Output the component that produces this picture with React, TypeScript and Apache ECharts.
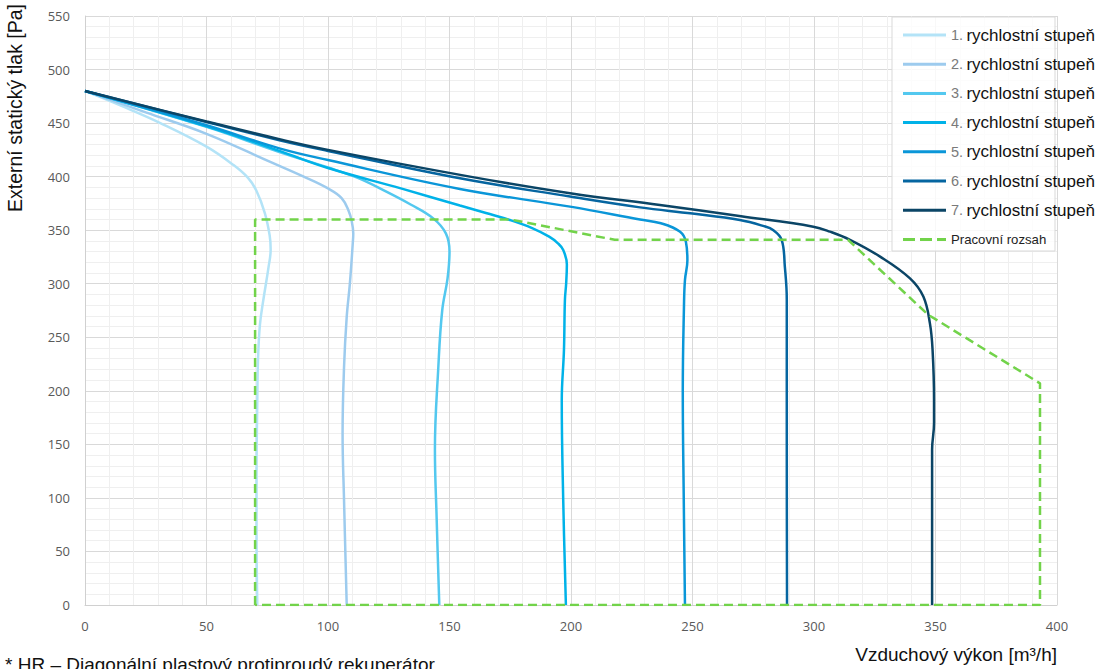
import React, { useEffect, useRef } from "react";
import * as echarts from "echarts";

const xTicks = [0, 50, 100, 150, 200, 250, 300, 350, 400];
const yTicks = [0, 50, 100, 150, 200, 250, 300, 350, 400, 450, 500, 550];

const speedNames = [
  "1. rychlostní stupeň",
  "2. rychlostní stupeň",
  "3. rychlostní stupeň",
  "4. rychlostní stupeň",
  "5. rychlostní stupeň",
  "6. rychlostní stupeň",
  "7. rychlostní stupeň",
];
const rangeName = "Pracovní rozsah";

const speed1 = [
  [0, 480], [15, 466], [31, 450], [50, 428], [61, 411], [67, 399], [70.5, 387],
  [74, 366], [76, 345], [76.4, 332], [75.5, 315], [73.4, 285], [72, 262],
  [71.2, 230], [70.9, 191], [70.6, 120], [70.6, 67], [70.9, 0],
];
const speed2 = [
  [0, 480], [25, 460], [50, 440], [76, 414], [90, 400], [100, 389], [105.6, 380],
  [108.5, 368], [109.7, 359], [110.4, 347], [110.2, 338], [109, 300], [107.7, 269],
  [106.6, 222], [106, 160], [106.6, 98], [107.7, 0],
];
const speed3 = [
  [0, 480], [50, 446.5], [80, 423], [100, 408.5], [112, 399], [124, 386], [134, 374],
  [143.3, 361], [148.5, 347], [150, 330], [149.2, 305],
  [147, 275], [145.4, 222], [144, 145], [144.7, 82], [145.8, 0],
];
const speed4 = [
  [0, 480], [50, 447], [80, 424], [100, 408], [130, 389], [154.3, 373], [165, 366],
  [174.9, 359.5], [184, 352], [191, 344], [194.5, 338], [196.8, 331.5], [198.3, 318],
  [198, 300], [197.5, 285], [197.1, 238], [196.2, 191], [196.8, 98], [197.9, 0],
];
const speed5 = [
  [0, 480], [50, 448], [80, 426.4], [100, 415.5], [154.3, 388.5], [199.6, 372],
  [228.4, 360], [237, 356.5], [244.9, 348.6], [247.3, 339], [247.9, 322],
  [246.9, 303.5], [246.5, 280], [246, 200], [246.4, 100], [246.9, 0],
];
const speed6 = [
  [0, 480], [50, 451], [80, 434], [100, 424], [154.3, 398.4], [199.6, 381.4],
  [228.4, 371.3], [250, 365.5], [269.5, 359.5], [279, 354], [283.3, 350],
  [286.7, 341], [288, 316], [288.8, 285], [288.8, 150], [288.9, 0],
];
const speed7 = [
  [0, 480], [50, 451.5], [80, 435], [100, 425], [158.4, 400], [199.6, 384.5],
  [236.6, 373.5], [270, 363], [299.7, 353.3], [306.6, 348.6], [314.8, 341],
  [327.2, 325.3], [339.5, 305], [345, 288], [347.7, 263], [348.8, 238],
  [349.4, 191], [349.4, 170], [348.6, 145], [348.6, 0],
];
const workingRange = [
  [70, 0], [70, 360], [175, 360], [218, 341], [314, 341], [347, 271],
  [393, 207], [393, 0], [70, 0],
];

const speedData = [speed1, speed2, speed3, speed4, speed5, speed6, speed7];
const speedColors = [
  "#b3e3f7", "#9dcbee", "#53c8ef", "#00b2e8", "#0a96d8", "#0565a0", "#0b4566",
];
const rangeColor = "#72d34a";

const solidIcon = "path://M0,0h43v3h-43z";
const dashIcon = "path://M0,0h12v3h-12z M17,0h12v3h-12z M34,0h9v3h-9z";

export default function App() {
  const ref = useRef<HTMLDivElement>(null);

  useEffect(() => {
    document.body.style.margin = "0";
    const chart = echarts.init(ref.current!, undefined, { renderer: "svg" });
    const series: any[] = speedData.map((d, i) => ({
      name: speedNames[i],
      type: "line",
      data: d,
      smooth: 0.4,
      symbol: "none",
      lineStyle: { color: speedColors[i], width: 2.5 },
      itemStyle: { color: speedColors[i] },
      z: 2 + i,
    }));
    series.push({
      name: rangeName,
      type: "line",
      data: workingRange,
      smooth: false,
      symbol: "none",
      lineStyle: { color: rangeColor, width: 2.5, type: [9, 5] },
      itemStyle: { color: rangeColor },
      z: 10,
    });

    const axisLabel = {
      color: "#595959",
      fontSize: 13,
      fontFamily: "Open Sans",
    };

    chart.setOption({
      animation: false,
      backgroundColor: "#ffffff",
      grid: { left: 85, right: 42, top: 16, bottom: 64, containLabel: false },
      xAxis: {
        type: "value",
        min: xTicks[0],
        max: xTicks[xTicks.length - 1],
        interval: 50,
        axisLine: { show: true, lineStyle: { color: "#d0d0d0", width: 1 } },
        axisTick: { show: false },
        axisLabel: { ...axisLabel, margin: 14 },
        splitLine: { show: true, lineStyle: { color: "#d9d9d9", width: 1 } },
        minorTick: { show: false, splitNumber: 5 },
        minorSplitLine: { show: true, lineStyle: { color: "#efefef", width: 1 } },
      },
      yAxis: {
        type: "value",
        min: yTicks[0],
        max: yTicks[yTicks.length - 1],
        interval: 50,
        axisLine: { show: true, lineStyle: { color: "#d0d0d0", width: 1 } },
        axisTick: { show: false },
        axisLabel: { ...axisLabel, margin: 15 },
        splitLine: { show: true, lineStyle: { color: "#d9d9d9", width: 1 } },
        minorTick: { show: false, splitNumber: 5 },
        minorSplitLine: { show: true, lineStyle: { color: "#efefef", width: 1 } },
      },
      legend: {
        orient: "vertical",
        left: 903,
        top: 26,
        padding: 0,
        itemWidth: 43,
        itemHeight: 3,
        itemGap: 11.2,
        data: [
          ...speedNames.map((n) => ({ name: n, icon: solidIcon })),
          { name: rangeName, icon: dashIcon },
        ],
        formatter: (name: string) => {
          const m = name.match(/^(\d+\.)\s(.*)$/);
          return m ? `{n|${m[1]}} {t|${m[2]}}` : `{p|${name}}`;
        },
        textStyle: {
          rich: {
            n: { fontSize: 14.5, color: "#7a7a7a", fontFamily: "Liberation Sans", lineHeight: 18, height: 18 },
            t: { fontSize: 17, color: "#111111", fontFamily: "Liberation Sans", lineHeight: 18, height: 18 },
            p: { fontSize: 13.2, color: "#222222", fontFamily: "Liberation Sans", lineHeight: 18, height: 18 },
          },
        },
        z: 20,
      },
      graphic: [
        {
          type: "rect",
          z: 15,
          shape: { x: 892, y: 17, width: 163, height: 234 },
          style: { fill: "rgba(255,255,255,0.8)", stroke: "#d9d9d9", lineWidth: 1 },
        },
        {
          type: "text",
          x: 15,
          y: 108,
          rotation: Math.PI / 2,
          style: {
            text: "Externí statický tlak [Pa]",
            fill: "#111111",
            font: '19.5px "Liberation Sans"',
            align: "center",
            verticalAlign: "middle",
            textAlign: "center",
            textVerticalAlign: "middle",
          },
        },
        {
          type: "text",
          x: 1057,
          y: 654,
          style: {
            text: "Vzduchový výkon [m³/h]",
            fill: "#111111",
            font: '19px "Liberation Sans"',
            align: "right",
            verticalAlign: "middle",
            textAlign: "right",
            textVerticalAlign: "middle",
          },
        },
        {
          type: "text",
          x: 5,
          y: 655,
          style: {
            text: "* HR – Diagonální plastový protiproudý rekuperátor",
            fill: "#111111",
            font: '19px "Liberation Sans"',
            align: "left",
            verticalAlign: "top",
            textAlign: "left",
            textVerticalAlign: "top",
          },
        },
      ],
      series,
    });
    return () => chart.dispose();
  }, []);

  return <div ref={ref} style={{ width: 1099, height: 669 }} />;
}
